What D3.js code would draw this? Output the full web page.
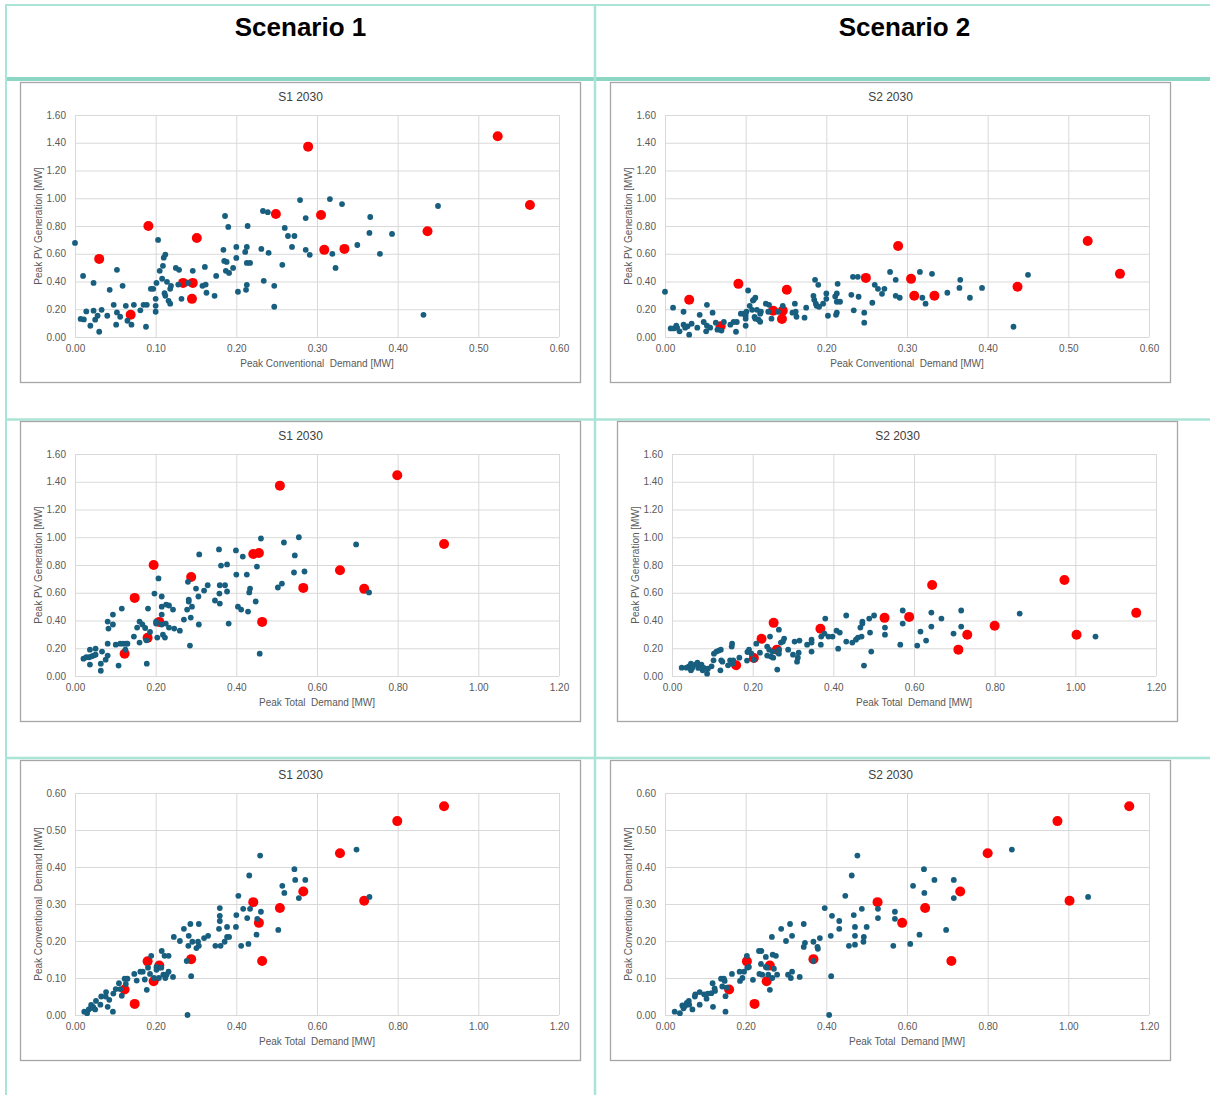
<!DOCTYPE html>
<html>
<head>
<meta charset="utf-8">
<script src="https://cdn.jsdelivr.net/npm/d3@7"></script>
<style>
    body { margin: 0; background: #ffffff; }
    text { font-family: "Liberation Sans", Arial, sans-serif; }
    .axis text { fill: #595959; font-size: 10px; }
    .axis line { stroke: #d9d9d9; }
    .chartTitle { fill: #404040; font-size: 12px; }
    .axisTitle { fill: #595959; font-size: 10px; }
</style>
</head>
<body>
<div id="page"></div>
<script>

// Column headers
const scenarioNames = ['Scenario 1', 'Scenario 2'];
const chartTitles = ['S1 2030', 'S2 2030'];

// Tick labels
const pvTicks = [0, 0.2, 0.4, 0.6, 0.8, 1.0, 1.2, 1.4, 1.6];
const convTicksX = [0, 0.1, 0.2, 0.3, 0.4, 0.5, 0.6];
const convTicksY = [0, 0.1, 0.2, 0.3, 0.4, 0.5, 0.6];
const totalTicks = [0, 0.2, 0.4, 0.6, 0.8, 1.0, 1.2];

// Highlighted (red) feeders, one entry per feeder
const redConv    = [0.030, 0.069, 0.091, 0.134, 0.146, 0.145, 0.151, 0.249, 0.289, 0.305, 0.309, 0.334, 0.437, 0.524, 0.564];
const redPvS1    = [0.563, 0.160, 0.800, 0.390, 0.390, 0.275, 0.714, 0.886, 1.372, 0.879, 0.628, 0.635, 0.762, 1.447, 0.951];
const redTotalS1 = [0.148, 0.123, 0.195, 0.209, 0.464, 0.180, 0.288, 0.456, 0.508, 0.442, 0.717, 0.566, 0.657, 0.799, 0.915];
const redPvS2    = [0.268, 0.077, 0.383, 0.190, 0.190, 0.130, 0.340, 0.426, 0.656, 0.419, 0.297, 0.297, 0.362, 0.692, 0.455];
const redTotalS2 = [0.222, 0.159, 0.252, 0.260, 0.710, 0.203, 0.368, 0.588, 0.645, 0.527, 1.003, 0.732, 0.800, 0.973, 1.151];

// Other feeders (blue), [x, y] per chart
const s1ConvPv = [[0.000,0.678],[0.010,0.440],[0.023,0.390],[0.014,0.184],[0.007,0.130],[0.011,0.127],[0.019,0.081],[0.023,0.190],[0.025,0.125],[0.028,0.153],[0.030,0.038],[0.033,0.196],[0.040,0.153],[0.043,0.340],[0.048,0.232],[0.052,0.484],[0.052,0.177],[0.051,0.089],[0.056,0.146],[0.059,0.369],[0.063,0.225],[0.065,0.117],[0.070,0.089],[0.073,0.232],[0.081,0.192],[0.085,0.232],[0.089,0.232],[0.088,0.074],[0.094,0.347],[0.097,0.347],[0.100,0.225],[0.100,0.182],[0.100,0.275],[0.101,0.390],[0.103,0.700],[0.105,0.477],[0.108,0.420],[0.109,0.513],[0.110,0.572],[0.112,0.594],[0.111,0.316],[0.112,0.297],[0.114,0.398],[0.116,0.261],[0.118,0.240],[0.118,0.347],[0.119,0.369],[0.125,0.498],[0.129,0.484],[0.128,0.378],[0.132,0.275],[0.140,0.390],[0.146,0.477],[0.158,0.369],[0.161,0.505],[0.162,0.378],[0.163,0.319],[0.173,0.297],[0.175,0.440],[0.184,0.628],[0.185,0.548],[0.186,0.872],[0.187,0.477],[0.188,0.541],[0.190,0.793],[0.191,0.462],[0.196,0.498],[0.200,0.649],[0.200,0.570],[0.202,0.326],[0.211,0.613],[0.213,0.649],[0.213,0.534],[0.213,0.376],[0.212,0.340],[0.214,0.800],[0.217,0.534],[0.231,0.635],[0.233,0.908],[0.239,0.900],[0.240,0.606],[0.234,0.405],[0.247,0.369],[0.247,0.218],[0.257,0.520],[0.260,0.786],[0.264,0.728],[0.272,0.728],[0.269,0.649],[0.279,0.987],[0.286,0.857],[0.286,0.628],[0.291,0.592],[0.316,0.994],[0.319,0.599],[0.323,0.498],[0.331,0.958],[0.350,0.663],[0.365,0.750],[0.366,0.865],[0.378,0.599],[0.393,0.743],[0.432,0.160],[0.450,0.944]];

const s2ConvPv = [[0.000,0.326],[0.010,0.211],[0.007,0.062],[0.011,0.062],[0.014,0.081],[0.015,0.067],[0.018,0.041],[0.023,0.182],[0.023,0.089],[0.025,0.067],[0.028,0.077],[0.030,0.017],[0.033,0.096],[0.040,0.067],[0.043,0.160],[0.048,0.108],[0.052,0.232],[0.051,0.041],[0.052,0.081],[0.056,0.067],[0.059,0.175],[0.063,0.103],[0.065,0.053],[0.070,0.046],[0.073,0.108],[0.081,0.089],[0.085,0.108],[0.089,0.108],[0.088,0.038],[0.094,0.168],[0.097,0.168],[0.100,0.132],[0.100,0.081],[0.100,0.153],[0.101,0.182],[0.103,0.335],[0.105,0.225],[0.108,0.196],[0.109,0.263],[0.110,0.268],[0.112,0.283],[0.111,0.144],[0.112,0.132],[0.114,0.196],[0.116,0.125],[0.118,0.110],[0.118,0.168],[0.119,0.182],[0.125,0.240],[0.129,0.232],[0.128,0.182],[0.132,0.132],[0.140,0.182],[0.146,0.225],[0.158,0.175],[0.161,0.240],[0.162,0.182],[0.163,0.146],[0.173,0.139],[0.175,0.211],[0.184,0.297],[0.185,0.268],[0.186,0.412],[0.187,0.240],[0.188,0.225],[0.190,0.376],[0.191,0.218],[0.196,0.240],[0.200,0.314],[0.200,0.275],[0.202,0.153],[0.211,0.292],[0.213,0.314],[0.213,0.254],[0.213,0.175],[0.212,0.160],[0.214,0.383],[0.217,0.254],[0.231,0.304],[0.233,0.434],[0.239,0.434],[0.240,0.290],[0.234,0.192],[0.247,0.175],[0.247,0.103],[0.257,0.247],[0.260,0.376],[0.264,0.347],[0.272,0.347],[0.269,0.311],[0.279,0.469],[0.286,0.412],[0.286,0.297],[0.291,0.283],[0.316,0.469],[0.319,0.283],[0.323,0.240],[0.331,0.455],[0.350,0.319],[0.365,0.354],[0.366,0.412],[0.378,0.283],[0.393,0.354],[0.432,0.074],[0.450,0.448]];

const s1TotalPv = [[0.021,0.125],[0.028,0.135],[0.037,0.190],[0.037,0.082],[0.035,0.135],[0.041,0.142],[0.046,0.147],[0.051,0.197],[0.051,0.154],[0.064,0.038],[0.064,0.089],[0.067,0.176],[0.076,0.118],[0.081,0.233],[0.081,0.147],[0.081,0.392],[0.083,0.342],[0.094,0.443],[0.094,0.371],[0.101,0.226],[0.108,0.075],[0.112,0.233],[0.119,0.233],[0.126,0.233],[0.130,0.233],[0.116,0.486],[0.125,0.190],[0.146,0.284],[0.154,0.349],[0.160,0.392],[0.160,0.241],[0.167,0.371],[0.174,0.346],[0.177,0.257],[0.178,0.089],[0.181,0.486],[0.186,0.318],[0.197,0.594],[0.201,0.392],[0.201,0.378],[0.204,0.277],[0.207,0.703],[0.215,0.573],[0.215,0.500],[0.215,0.443],[0.215,0.371],[0.218,0.298],[0.223,0.277],[0.225,0.378],[0.226,0.515],[0.233,0.508],[0.233,0.349],[0.243,0.479],[0.246,0.342],[0.260,0.327],[0.270,0.407],[0.278,0.479],[0.280,0.679],[0.282,0.551],[0.282,0.537],[0.285,0.219],[0.287,0.421],[0.290,0.500],[0.300,0.630],[0.306,0.573],[0.307,0.371],[0.308,0.876],[0.320,0.616],[0.329,0.654],[0.347,0.544],[0.357,0.912],[0.358,0.594],[0.359,0.522],[0.359,0.654],[0.362,0.796],[0.372,0.654],[0.377,0.609],[0.377,0.804],[0.381,0.378],[0.399,0.905],[0.400,0.731],[0.404,0.500],[0.412,0.479],[0.416,0.861],[0.426,0.731],[0.429,0.464],[0.432,0.602],[0.434,0.630],[0.448,0.537],[0.451,0.789],[0.458,0.161],[0.461,0.991],[0.503,0.638],[0.513,0.666],[0.518,0.962],[0.543,0.746],[0.545,0.869],[0.555,1.000],[0.569,0.753],[0.697,0.948],[0.729,0.602]];

const s2TotalPv = [[0.024,0.060],[0.036,0.060],[0.042,0.070],[0.047,0.089],[0.047,0.041],[0.050,0.058],[0.058,0.082],[0.063,0.096],[0.065,0.058],[0.073,0.082],[0.076,0.041],[0.079,0.058],[0.087,0.017],[0.089,0.053],[0.098,0.070],[0.103,0.113],[0.104,0.161],[0.110,0.176],[0.116,0.183],[0.121,0.190],[0.120,0.041],[0.122,0.113],[0.125,0.103],[0.139,0.077],[0.144,0.113],[0.148,0.212],[0.149,0.233],[0.150,0.089],[0.152,0.113],[0.167,0.132],[0.186,0.111],[0.187,0.173],[0.191,0.190],[0.197,0.161],[0.203,0.118],[0.209,0.233],[0.218,0.168],[0.236,0.212],[0.236,0.147],[0.241,0.190],[0.243,0.284],[0.245,0.140],[0.251,0.132],[0.249,0.176],[0.261,0.046],[0.265,0.190],[0.265,0.334],[0.265,0.161],[0.270,0.241],[0.275,0.248],[0.278,0.270],[0.288,0.190],[0.300,0.154],[0.304,0.248],[0.310,0.103],[0.312,0.132],[0.314,0.168],[0.316,0.255],[0.335,0.226],[0.346,0.262],[0.346,0.241],[0.346,0.176],[0.369,0.226],[0.370,0.284],[0.378,0.306],[0.380,0.414],[0.388,0.284],[0.398,0.284],[0.408,0.327],[0.416,0.313],[0.412,0.197],[0.432,0.436],[0.432,0.248],[0.447,0.241],[0.456,0.262],[0.461,0.277],[0.467,0.349],[0.470,0.284],[0.472,0.392],[0.472,0.378],[0.476,0.075],[0.489,0.414],[0.491,0.313],[0.494,0.176],[0.501,0.436],[0.528,0.298],[0.528,0.349],[0.566,0.226],[0.572,0.472],[0.572,0.378],[0.608,0.219],[0.616,0.320],[0.630,0.255],[0.643,0.457],[0.643,0.356],[0.668,0.414],[0.698,0.306],[0.717,0.472],[0.717,0.356],[0.862,0.450],[1.050,0.284]];

const s1TotalConv = [[0.023,0.009],[0.030,0.005],[0.034,0.015],[0.040,0.027],[0.040,0.019],[0.045,0.022],[0.050,0.015],[0.052,0.038],[0.063,0.028],[0.065,0.050],[0.077,0.062],[0.076,0.050],[0.081,0.022],[0.085,0.041],[0.094,0.009],[0.095,0.058],[0.101,0.070],[0.109,0.086],[0.112,0.070],[0.116,0.052],[0.123,0.098],[0.130,0.098],[0.126,0.084],[0.147,0.111],[0.153,0.093],[0.162,0.117],[0.168,0.117],[0.173,0.096],[0.178,0.068],[0.181,0.128],[0.189,0.160],[0.186,0.111],[0.196,0.100],[0.202,0.130],[0.202,0.122],[0.208,0.100],[0.214,0.128],[0.215,0.173],[0.219,0.109],[0.222,0.160],[0.224,0.100],[0.227,0.109],[0.232,0.160],[0.232,0.117],[0.243,0.103],[0.245,0.211],[0.260,0.200],[0.270,0.233],[0.277,0.146],[0.281,0.187],[0.282,0.214],[0.279,0.000],[0.286,0.246],[0.288,0.105],[0.291,0.198],[0.301,0.181],[0.305,0.198],[0.307,0.187],[0.307,0.246],[0.320,0.208],[0.330,0.214],[0.348,0.187],[0.357,0.233],[0.359,0.289],[0.359,0.268],[0.359,0.254],[0.361,0.187],[0.371,0.198],[0.377,0.238],[0.377,0.211],[0.382,0.211],[0.399,0.238],[0.400,0.270],[0.405,0.322],[0.412,0.187],[0.417,0.287],[0.427,0.262],[0.430,0.192],[0.432,0.377],[0.434,0.287],[0.450,0.217],[0.452,0.260],[0.459,0.431],[0.461,0.279],[0.504,0.230],[0.514,0.349],[0.519,0.330],[0.544,0.394],[0.546,0.365],[0.555,0.316],[0.571,0.365],[0.698,0.447],[0.730,0.319]];

const s2TotalConv = [[0.024,0.009],[0.037,0.005],[0.043,0.026],[0.046,0.018],[0.050,0.025],[0.054,0.033],[0.059,0.038],[0.060,0.028],[0.068,0.015],[0.074,0.050],[0.075,0.056],[0.086,0.028],[0.086,0.062],[0.097,0.056],[0.103,0.044],[0.106,0.058],[0.115,0.059],[0.118,0.086],[0.119,0.022],[0.123,0.072],[0.124,0.065],[0.139,0.098],[0.146,0.098],[0.142,0.077],[0.148,0.092],[0.150,0.009],[0.150,0.051],[0.153,0.074],[0.166,0.111],[0.185,0.117],[0.186,0.092],[0.192,0.100],[0.196,0.117],[0.203,0.160],[0.204,0.128],[0.208,0.130],[0.218,0.095],[0.233,0.173],[0.239,0.173],[0.234,0.111],[0.238,0.138],[0.241,0.109],[0.250,0.157],[0.250,0.130],[0.253,0.128],[0.256,0.109],[0.260,0.068],[0.265,0.211],[0.267,0.163],[0.270,0.125],[0.266,0.100],[0.275,0.160],[0.278,0.109],[0.288,0.233],[0.300,0.200],[0.305,0.109],[0.310,0.246],[0.312,0.100],[0.315,0.117],[0.315,0.214],[0.334,0.103],[0.344,0.246],[0.344,0.184],[0.347,0.195],[0.368,0.198],[0.368,0.146],[0.378,0.184],[0.379,0.179],[0.384,0.208],[0.396,0.289],[0.407,0.000],[0.411,0.214],[0.412,0.105],[0.414,0.268],[0.432,0.254],[0.432,0.233],[0.447,0.322],[0.456,0.187],[0.463,0.377],[0.468,0.270],[0.471,0.238],[0.471,0.214],[0.471,0.190],[0.477,0.431],[0.488,0.287],[0.493,0.211],[0.492,0.198],[0.500,0.238],[0.528,0.287],[0.528,0.262],[0.566,0.187],[0.570,0.279],[0.570,0.260],[0.608,0.192],[0.615,0.349],[0.631,0.217],[0.642,0.394],[0.643,0.330],[0.668,0.365],[0.697,0.230],[0.716,0.365],[0.716,0.316],[0.860,0.447],[1.049,0.319]];

const blueColor = '#175e7f';
const redColor = '#ff0000';
const tealThin = '#aae4d6';
const tealThick = '#8cd6c4';


class ScatterChart {

    constructor(svg, left, top, config) {
        this.svg = svg;
        this.left = left;
        this.top = top;
        this.config = config;

        this.initVis();
    }

    initVis() {
        let vis = this;

        // chart box size and margin conventions
        vis.boxWidth = 560;
        vis.boxHeight = 300;
        vis.margin = {top: 32.5, right: 21.5, bottom: 45.5, left: 54.5};
        vis.width = vis.boxWidth - vis.margin.left - vis.margin.right;
        vis.height = vis.boxHeight - vis.margin.top - vis.margin.bottom;

        vis.group = vis.svg.append('g')
            .attr('transform', `translate(${vis.left}, ${vis.top})`);

        // chart border
        vis.group.append('rect')
            .attr('width', vis.boxWidth)
            .attr('height', vis.boxHeight)
            .attr('fill', '#ffffff')
            .attr('stroke', '#a6a6a6')
            .attr('stroke-width', 1.3);

        // chart title
        vis.group.append('text')
            .attr('class', 'chartTitle')
            .attr('x', vis.boxWidth / 2)
            .attr('y', 18)
            .attr('text-anchor', 'middle')
            .text(vis.config.title);

        vis.plot = vis.group.append('g')
            .attr('transform', `translate(${vis.margin.left}, ${vis.margin.top})`);

        // scales
        vis.x = d3.scaleLinear()
            .domain(d3.extent(vis.config.xTicks))
            .range([0, vis.width]);

        vis.y = d3.scaleLinear()
            .domain(d3.extent(vis.config.yTicks))
            .range([vis.height, 0]);

        // axes double as gridlines
        vis.xAxis = d3.axisBottom(vis.x)
            .tickValues(vis.config.xTicks)
            .tickSize(-vis.height)
            .tickPadding(8)
            .tickFormat(d3.format('.2f'));

        vis.yAxis = d3.axisLeft(vis.y)
            .tickValues(vis.config.yTicks)
            .tickSize(-vis.width)
            .tickPadding(9)
            .tickFormat(d3.format('.2f'));

        vis.plot.append('g')
            .attr('class', 'axis')
            .attr('transform', `translate(0, ${vis.height})`)
            .call(vis.xAxis)
            .call(g => g.select('.domain').remove());

        vis.plot.append('g')
            .attr('class', 'axis')
            .call(vis.yAxis)
            .call(g => g.select('.domain').remove());

        vis.plot.selectAll('.axis text').attr('font-family', null);

        // axis titles
        vis.plot.append('text')
            .attr('class', 'axisTitle')
            .attr('x', vis.width / 2)
            .attr('y', vis.height + 29.5)
            .attr('text-anchor', 'middle')
            .style('white-space', 'pre')
            .text(vis.config.xLabel);

        vis.plot.append('text')
            .attr('class', 'axisTitle')
            .attr('text-anchor', 'middle')
            .style('white-space', 'pre')
            .attr('transform', `translate(${-vis.margin.left + 21}, ${vis.height / 2}) rotate(-90)`)
            .text(vis.config.yLabel);

        vis.updateVis();
    }

    updateVis() {
        let vis = this;

        // red feeders go underneath the blue ones
        vis.plot.selectAll('.red-dot')
            .data(vis.config.redPoints)
            .enter()
            .append('circle')
            .attr('class', 'red-dot')
            .attr('cx', d => vis.x(d[0]))
            .attr('cy', d => vis.y(d[1]))
            .attr('r', 5)
            .style('fill', redColor);

        vis.plot.selectAll('.blue-dot')
            .data(vis.config.bluePoints)
            .enter()
            .append('circle')
            .attr('class', 'blue-dot')
            .attr('cx', d => vis.x(d[0]))
            .attr('cy', d => vis.y(d[1]))
            .attr('r', 2.9)
            .style('fill', blueColor);
    }
}


// zip two value arrays into [x, y] pairs
function pairUp(xs, ys) {
    return xs.map((v, i) => [v, ys[i]]);
}

let svg = d3.select('#page').append('svg')
    .attr('width', 1210)
    .attr('height', 1095);

// table frame
let frame = svg.append('g');
let hLines = [
    {y: 5, w: 2, color: tealThin},
    {y: 79, w: 4, color: tealThick},
    {y: 419.5, w: 2.5, color: tealThin},
    {y: 758, w: 2.5, color: tealThin}
];
let vLines = [
    {x: 6, w: 2},
    {x: 595, w: 2.5}
];

frame.selectAll('.hline')
    .data(hLines)
    .enter()
    .append('line')
    .attr('class', 'hline')
    .attr('x1', 5).attr('x2', 1210)
    .attr('y1', d => d.y).attr('y2', d => d.y)
    .attr('stroke', d => d.color)
    .attr('stroke-width', d => d.w);

frame.selectAll('.vline')
    .data(vLines)
    .enter()
    .append('line')
    .attr('class', 'vline')
    .attr('x1', d => d.x).attr('x2', d => d.x)
    .attr('y1', 4).attr('y2', 1095)
    .attr('stroke', tealThin)
    .attr('stroke-width', d => d.w);

// column headers
svg.selectAll('.header')
    .data(scenarioNames)
    .enter()
    .append('text')
    .attr('class', 'header')
    .attr('x', (d, i) => i === 0 ? 300.5 : 904.5)
    .attr('y', 36)
    .attr('text-anchor', 'middle')
    .attr('font-size', 26)
    .attr('font-weight', 'bold')
    .attr('fill', '#000000')
    .text(d => d);

const pvLabel = 'Peak PV Generation [MW]';
const convLabel = 'Peak Conventional  Demand [MW]';
const totalLabel = 'Peak Total  Demand [MW]';

new ScatterChart(svg, 20.5, 82.5, {
    title: chartTitles[0], xTicks: convTicksX, yTicks: pvTicks,
    xLabel: convLabel, yLabel: pvLabel,
    bluePoints: s1ConvPv, redPoints: pairUp(redConv, redPvS1)
});

new ScatterChart(svg, 610.5, 82.5, {
    title: chartTitles[1], xTicks: convTicksX, yTicks: pvTicks,
    xLabel: convLabel, yLabel: pvLabel,
    bluePoints: s2ConvPv, redPoints: pairUp(redConv, redPvS2)
});

new ScatterChart(svg, 20.5, 421.5, {
    title: chartTitles[0], xTicks: totalTicks, yTicks: pvTicks,
    xLabel: totalLabel, yLabel: pvLabel,
    bluePoints: s1TotalPv, redPoints: pairUp(redTotalS1, redPvS1)
});

new ScatterChart(svg, 617.5, 421.5, {
    title: chartTitles[1], xTicks: totalTicks, yTicks: pvTicks,
    xLabel: totalLabel, yLabel: pvLabel,
    bluePoints: s2TotalPv, redPoints: pairUp(redTotalS2, redPvS2)
});

new ScatterChart(svg, 20.5, 760.5, {
    title: chartTitles[0], xTicks: totalTicks, yTicks: convTicksY,
    xLabel: totalLabel, yLabel: convLabel,
    bluePoints: s1TotalConv, redPoints: pairUp(redTotalS1, redConv)
});

new ScatterChart(svg, 610.5, 760.5, {
    title: chartTitles[1], xTicks: totalTicks, yTicks: convTicksY,
    xLabel: totalLabel, yLabel: convLabel,
    bluePoints: s2TotalConv, redPoints: pairUp(redTotalS2, redConv)
});

</script>
</body>
</html>
